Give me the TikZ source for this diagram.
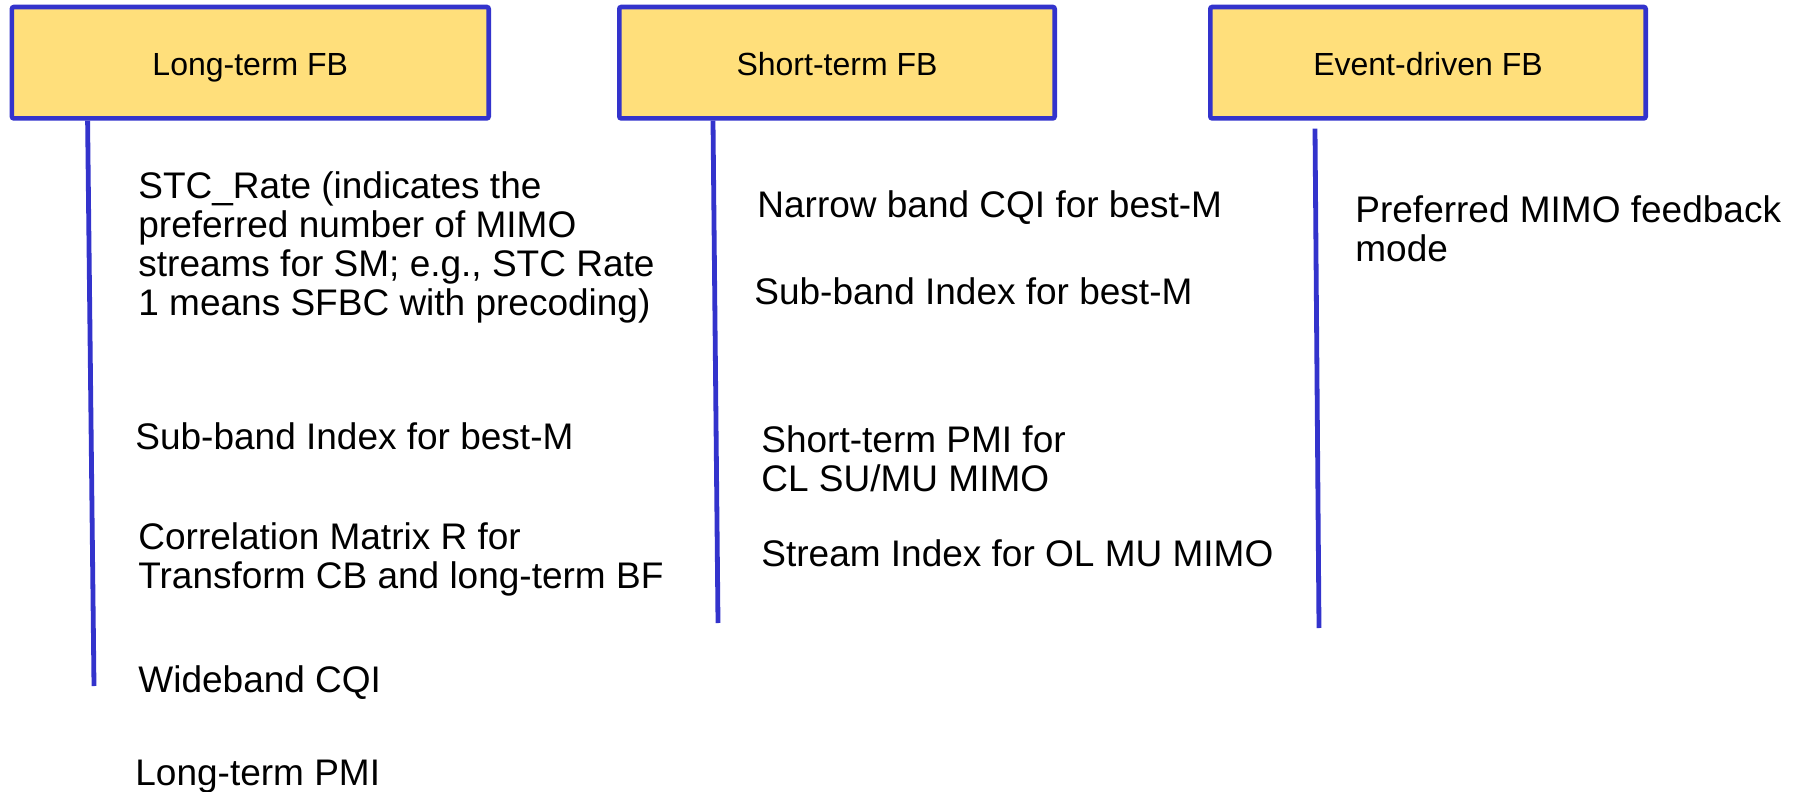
\documentclass[tikz,border=0pt]{standalone}
\usepackage{fontspec}
\setmainfont{Liberation Sans}
\usetikzlibrary{
    calc,               % calcoli con coordinate
    positioning         % posizionamento dei nodi
}
\definecolor{giallofb}{RGB}{255,223,123}
\definecolor{blufb}{RGB}{51,51,204}
\tikzset{
    fbbox/.style={draw=blufb, fill=giallofb, line width=2.3pt, rounded corners=1pt,
        minimum width=217.7pt, minimum height=55.7pt, inner sep=0pt,
        text height=13pt, text depth=0pt,
        font=\fontsize{16}{19}\selectfont},
    fbstem/.style={draw=blufb, line width=2.4pt},
    fbtext/.style={anchor=base west, align=left, inner sep=0pt,
        font=\fontsize{18.5}{19.5}\selectfont}
}

\begin{document}
\begin{tikzpicture}[x=0.5pt, y=-0.5pt]

        \useasboundingbox (0,0) rectangle (1799,792);

        % Riquadri dei tre tipi di feedback
        \node[fbbox, minimum width=238.4pt] (lungo) at (250.3,62.7) {Long-term FB};
        \node[fbbox] (breve) at (837,62.7) {Short-term FB};
        \node[fbbox] (evento) at (1428,62.7) {Event-driven FB};

        % Linee verticali
        \coordinate (fineLungo) at (94,686);
        \coordinate (fineBreve) at (718,623);
        \coordinate (fineEvento) at (1319,628);
        \draw[fbstem] ($(lungo.south west)+(78,0)$) -- (fineLungo);
        \draw[fbstem] ($(breve.south west)+(96,0)$) -- (fineBreve);
        \draw[fbstem] ($(evento.south west)+(107,8)$) -- (fineEvento);

        % Voci del feedback a lungo termine (base sull'ultima riga)
        \node[fbtext] (stcRate) at (138,315) {STC\_Rate (indicates the\\preferred number of MIMO\\streams for SM; e.g., STC Rate\\1 means SFBC with precoding)};
        \node[fbtext] (subLungo) at (135,449) {Sub-band Index for best-M};
        \node[fbtext] (correlazione) at (138,588) {Correlation Matrix R for\\Transform CB and long-term BF};
        \node[fbtext] (wideCqi) at (138,692) {Wideband CQI};
        \node[fbtext] (pmiLungo) at (135,785) {Long-term PMI};

        % Voci del feedback a breve termine
        \node[fbtext] (narrowCqi) at (757,217) {Narrow band CQI for best-M};
        \node[fbtext] (subBreve) at (754,304) {Sub-band Index for best-M};
        \node[fbtext] (pmiBreve) at (761,491) {Short-term PMI for\\CL SU/MU MIMO};
        \node[fbtext] (streamIdx) at (761,566) {Stream Index for OL MU MIMO};

        % Voce del feedback su evento
        \node[fbtext] (modoMimo) at (1355,261) {Preferred MIMO feedback\\mode};

    \end{tikzpicture}
\end{document}
